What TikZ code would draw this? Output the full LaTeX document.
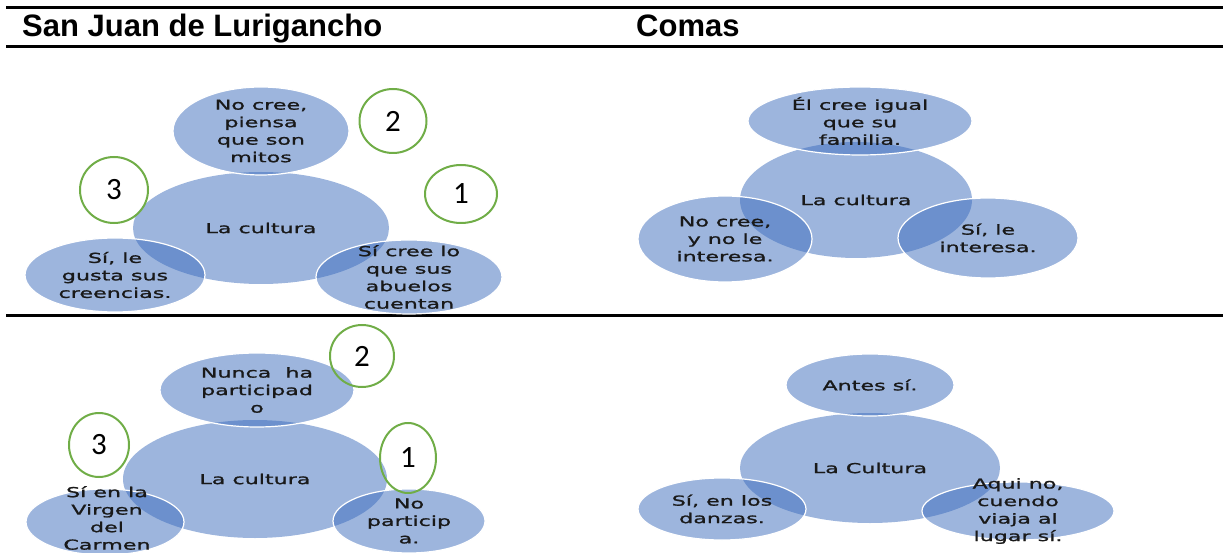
\documentclass[tikz,border=0pt]{standalone}
\usepackage{fontspec}
\setmainfont{DejaVu Sans}
\newfontfamily\headfont{Liberation Sans}
\newfontfamily\blobfont[FakeStretch=1.62,FakeBold=1.3]{DejaVu Sans}
\newfontfamily\numfont{Carlito}
\usetikzlibrary{shapes.geometric,positioning}
\definecolor{blobblue}{RGB}{60,108,188}
\definecolor{ringgreen}{RGB}{112,173,71}

\begin{document}
\begin{tikzpicture}[x=1pt,y=-1pt,
  hub/.style={ellipse,fill=blobblue,fill opacity=0.5,draw=none,inner sep=0pt},
  leaf/.style={ellipse,fill=blobblue,fill opacity=0.5,draw=white,draw opacity=1,line width=1.2pt,inner sep=0pt},
  txt/.style={align=center,inner sep=0pt,text=black!90,font=\blobfont\fontsize{13.7}{17.5}\selectfont},
  ring/.style={ellipse,draw=ringgreen,line width=2pt,inner sep=0pt,font=\numfont\fontsize{31}{31}\selectfont},
  rule/.style={line width=3pt},
  head/.style={anchor=base west,inner sep=0pt,font=\headfont\bfseries\fontsize{31}{31}\selectfont}]
\useasboundingbox (0,0) rectangle (1223,553);

% table rules and headings
\coordinate (topw) at (6,8);     \coordinate (tope) at (1223,8);
\coordinate (headw) at (6,47);   \coordinate (heade) at (1223,47);
\coordinate (midw) at (6,315);   \coordinate (mide) at (1223,315);
\draw[rule] (topw) -- (tope);
\draw[rule] (headw) -- (heade);
\draw[rule] (midw) -- (mide);
\node[head] (sjl) at (22,37) {San Juan de Lurigancho};
\node[head] (comas) at (636,37) {Comas};

% San Juan de Lurigancho, first row
\node[hub,minimum width=256,minimum height=112] (a0) at (261,228) {};
\node[leaf,minimum width=176,minimum height=88] (a2) at (261,131) {};
\node[leaf,minimum width=180,minimum height=74] (a3) at (115,275) {};
\node[leaf,minimum width=186,minimum height=74] (a1) at (409,277) {};
\node[txt] (a0t) at (a0) {La cultura};
\node[txt] (a2t) at (a2) {No cree,\\piensa\\que son\\mitos};
\node[txt] (a3t) at (a3) {Sí, le\\gusta sus\\creencias.};
\node[txt] (a1t) at (a1) {Sí cree lo\\que sus\\abuelos\\cuentan};
\node[ring,minimum width=67,minimum height=64] (ra2) at (393,121) {2};
\node[ring,minimum width=68,minimum height=66] (ra3) at (114,190) {3};
\node[ring,minimum width=72,minimum height=58] (ra1) at (461,194) {1};

% Comas, first row
\node[hub,minimum width=232,minimum height=116] (b0) at (856,200) {};
\node[leaf,minimum width=224,minimum height=68] (b2) at (860,121) {};
\node[leaf,minimum width=174,minimum height=86] (b3) at (725,239) {};
\node[leaf,minimum width=180,minimum height=80] (b1) at (988,238) {};
\node[txt] (b0t) at (b0) {La cultura};
\node[txt] (b2t) at (b2) {Él cree igual\\que su\\familia.};
\node[txt] (b3t) at (b3) {No cree,\\y no le\\interesa.};
\node[txt] (b1t) at (b1) {Sí, le\\interesa.};

% San Juan de Lurigancho, second row
\node[hub,minimum width=264,minimum height=118] (c0) at (255,479) {};
\node[leaf,minimum width=194,minimum height=74] (c2) at (257,390) {};
\node[leaf,minimum width=158,minimum height=66] (c3) at (105,522) {};
\node[leaf,minimum width=152,minimum height=64] (c1) at (409,521) {};
\node[txt] (c0t) at (c0) {La cultura};
\node[txt] (c2t) at (c2) {Nunca\ \ ha\\participad\\o};
\node[txt] (c3t) at (107,518) {Sí en la\\Virgen\\del\\Carmen};
\node[txt] (c1t) at (c1) {No\\particip\\a.};
\node[ring,minimum width=64,minimum height=62] (rc2) at (362,356) {2};
\node[ring,minimum width=60,minimum height=64] (rc3) at (99,445) {3};
\node[ring,minimum width=56,minimum height=70] (rc1) at (408,458) {1};

% Comas, second row
\node[hub,minimum width=260,minimum height=110] (d0) at (870,468) {};
\node[leaf,minimum width=168,minimum height=62] (d2) at (870,385) {};
\node[leaf,minimum width=168,minimum height=62] (d3) at (722,509) {};
\node[leaf,minimum width=192,minimum height=58] (d1) at (1018,511) {};
\node[txt] (d0t) at (d0) {La Cultura};
\node[txt] (d2t) at (d2) {Antes sí.};
\node[txt] (d3t) at (d3) {Sí, en los\\danzas.};
\node[txt] (d1t) at (d1) {Aqui no,\\cuendo\\viaja al\\lugar sí.};
\end{tikzpicture}
\end{document}
